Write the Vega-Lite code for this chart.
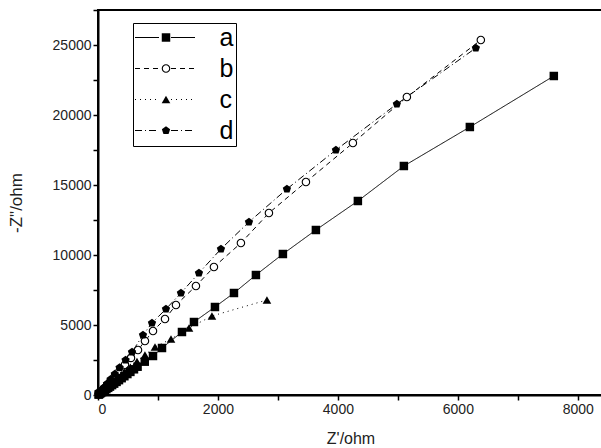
{
  "$schema": "https://vega.github.io/schema/vega-lite/v6.json",
  "width": 505,
  "height": 385,
  "autosize": {"type": "none"},
  "padding": {"left": 98, "top": 10, "right": 0, "bottom": 53},
  "background": "white",
  "config": {"view": {"stroke": "black", "strokeWidth": 2}, "font": "Liberation Sans"},
  "data": {"values": [
    {"series": "a", "zr": 10, "zi": 30}, {"series": "a", "zr": 20, "zi": 60}, {"series": "a", "zr": 35, "zi": 105}, {"series": "a", "zr": 50, "zi": 150},
    {"series": "a", "zr": 70, "zi": 210}, {"series": "a", "zr": 90, "zi": 270}, {"series": "a", "zr": 115, "zi": 345},
    {"series": "a", "zr": 140, "zi": 420}, {"series": "a", "zr": 170, "zi": 510}, {"series": "a", "zr": 200, "zi": 600},
    {"series": "a", "zr": 235, "zi": 705}, {"series": "a", "zr": 270, "zi": 810}, {"series": "a", "zr": 310, "zi": 935},
    {"series": "a", "zr": 350, "zi": 1060}, {"series": "a", "zr": 395, "zi": 1200}, {"series": "a", "zr": 440, "zi": 1340},
    {"series": "a", "zr": 490, "zi": 1495}, {"series": "a", "zr": 540, "zi": 1650}, {"series": "a", "zr": 600, "zi": 1835},
    {"series": "a", "zr": 660, "zi": 2020}, {"series": "a", "zr": 780, "zi": 2380}, {"series": "a", "zr": 917, "zi": 2786},
    {"series": "a", "zr": 1067, "zi": 3357}, {"series": "a", "zr": 1400, "zi": 4500}, {"series": "a", "zr": 1600, "zi": 5214},
    {"series": "a", "zr": 1950, "zi": 6286}, {"series": "a", "zr": 2267, "zi": 7286}, {"series": "a", "zr": 2633, "zi": 8571},
    {"series": "a", "zr": 3083, "zi": 10071}, {"series": "a", "zr": 3633, "zi": 11786}, {"series": "a", "zr": 4333, "zi": 13857},
    {"series": "a", "zr": 5100, "zi": 16357}, {"series": "a", "zr": 6200, "zi": 19143}, {"series": "a", "zr": 7600, "zi": 22786},
    {"series": "b", "zr": 10, "zi": 45}, {"series": "b", "zr": 30, "zi": 140}, {"series": "b", "zr": 60, "zi": 280},
    {"series": "b", "zr": 100, "zi": 470}, {"series": "b", "zr": 150, "zi": 700}, {"series": "b", "zr": 210, "zi": 990},
    {"series": "b", "zr": 280, "zi": 1330}, {"series": "b", "zr": 360, "zi": 1720}, {"series": "b", "zr": 450, "zi": 2160},
    {"series": "b", "zr": 550, "zi": 2650}, {"series": "b", "zr": 667, "zi": 3214}, {"series": "b", "zr": 783, "zi": 3857},
    {"series": "b", "zr": 917, "zi": 4571}, {"series": "b", "zr": 1117, "zi": 5429}, {"series": "b", "zr": 1300, "zi": 6429},
    {"series": "b", "zr": 1633, "zi": 7786}, {"series": "b", "zr": 1933, "zi": 9143}, {"series": "b", "zr": 2383, "zi": 10857},
    {"series": "b", "zr": 2850, "zi": 13000}, {"series": "b", "zr": 3467, "zi": 15214}, {"series": "b", "zr": 4250, "zi": 18000},
    {"series": "b", "zr": 5150, "zi": 21286}, {"series": "b", "zr": 6383, "zi": 25357},
    {"series": "c", "zr": 10, "zi": 35}, {"series": "c", "zr": 20, "zi": 70}, {"series": "c", "zr": 35, "zi": 125}, {"series": "c", "zr": 50, "zi": 180},
    {"series": "c", "zr": 70, "zi": 255}, {"series": "c", "zr": 90, "zi": 330}, {"series": "c", "zr": 115, "zi": 420},
    {"series": "c", "zr": 140, "zi": 510}, {"series": "c", "zr": 170, "zi": 620}, {"series": "c", "zr": 200, "zi": 730},
    {"series": "c", "zr": 235, "zi": 860}, {"series": "c", "zr": 270, "zi": 990}, {"series": "c", "zr": 310, "zi": 1140},
    {"series": "c", "zr": 350, "zi": 1290}, {"series": "c", "zr": 395, "zi": 1455}, {"series": "c", "zr": 440, "zi": 1620},
    {"series": "c", "zr": 490, "zi": 1805}, {"series": "c", "zr": 540, "zi": 1990}, {"series": "c", "zr": 650, "zi": 2400},
    {"series": "c", "zr": 783, "zi": 2857}, {"series": "c", "zr": 950, "zi": 3429},
    {"series": "c", "zr": 1217, "zi": 4000}, {"series": "c", "zr": 1517, "zi": 4786}, {"series": "c", "zr": 1900, "zi": 5643},
    {"series": "c", "zr": 2817, "zi": 6786},
    {"series": "d", "zr": 10, "zi": 50}, {"series": "d", "zr": 30, "zi": 160}, {"series": "d", "zr": 60, "zi": 320},
    {"series": "d", "zr": 100, "zi": 530}, {"series": "d", "zr": 150, "zi": 800}, {"series": "d", "zr": 210, "zi": 1120},
    {"series": "d", "zr": 280, "zi": 1500}, {"series": "d", "zr": 360, "zi": 1950}, {"series": "d", "zr": 460, "zi": 2500},
    {"series": "d", "zr": 567, "zi": 3071}, {"series": "d", "zr": 750, "zi": 4286}, {"series": "d", "zr": 900, "zi": 5143},
    {"series": "d", "zr": 1133, "zi": 6143}, {"series": "d", "zr": 1383, "zi": 7286}, {"series": "d", "zr": 1683, "zi": 8714},
    {"series": "d", "zr": 2050, "zi": 10429}, {"series": "d", "zr": 2517, "zi": 12357}, {"series": "d", "zr": 3150, "zi": 14714},
    {"series": "d", "zr": 3967, "zi": 17500}, {"series": "d", "zr": 4983, "zi": 20786}, {"series": "d", "zr": 6300, "zi": 24786}
  ]},
  "encoding": {
    "x": {
      "field": "zr", "type": "quantitative",
      "scale": {"domain": [0, 8420], "nice": false, "zero": false},
      "axis": {
        "title": "Z'/ohm",
        "values": [0, 1000, 2000, 3000, 4000, 5000, 6000, 7000, 8000],
        "format": "d",
        "labelExpr": "datum.value % 2000 === 0 ? datum.label : ''",
        "grid": false,
        "tickSize": 5,
        "tickColor": "black", "tickWidth": 1.5,
        "domainColor": "black", "domainWidth": 2,
        "labelFontSize": 14, "labelColor": "#222", "labelPadding": 2,
        "titleFontSize": 16, "titleFontWeight": "normal", "titleColor": "#222", "titlePadding": 14,
        "encode": {"ticks": {"update": {"y2": {"signal": "datum.value % 2000 === 0 ? -6 : -3"}}}}
      }
    },
    "y": {
      "field": "zi", "type": "quantitative",
      "scale": {"domain": [0, 27500], "nice": false, "zero": false},
      "axis": {
        "title": "-Z\"/ohm",
        "values": [0, 2500, 5000, 7500, 10000, 12500, 15000, 17500, 20000, 22500, 25000, 27500],
        "format": "d",
        "labelExpr": "datum.value % 5000 === 0 ? datum.label : ''",
        "grid": false,
        "tickSize": 5,
        "tickColor": "black", "tickWidth": 1.5,
        "domainColor": "black", "domainWidth": 2,
        "labelFontSize": 14, "labelColor": "#222", "labelPadding": 2,
        "titleFontSize": 17, "titleFontWeight": "normal", "titleColor": "#222", "titlePadding": 27,
        "encode": {"ticks": {"update": {"x2": {"signal": "datum.value % 5000 === 0 ? 6 : 3"}}}}
      }
    }
  },
  "layer": [
    {
      "mark": {"type": "line", "stroke": "black", "strokeWidth": 1},
      "encoding": {
        "strokeDash": {
          "field": "series", "type": "nominal",
          "scale": {"range": [[1, 0], [5, 4], [1, 4], [7, 3, 1, 3]]},
          "legend": {
            "orient": "none", "legendX": 35, "legendY": 13, "title": null,
            "padding": 2, "rowPadding": 5,
            "labelFontSize": 25, "labelFont": "Liberation Sans", "labelColor": "black", "labelOffset": 42,
            "symbolType": "M-12,0H-2.4M2.4,0H12", "symbolSize": 25, "symbolOffset": 17.5,
            "symbolStrokeWidth": 1, "symbolStrokeColor": "black", "symbolFillColor": "transparent",
            "strokeColor": "black"
          }
        }
      }
    },
    {
      "transform": [{"filter": "datum.series === 'b'"}],
      "mark": {"type": "point", "filled": true, "color": "white", "shape": "circle", "size": 70, "opacity": 1}
    },
    {
      "mark": {"type": "point", "filled": true, "color": "black", "opacity": 1},
      "encoding": {
        "shape": {
          "field": "series", "type": "nominal",
          "scale": {"domain": ["a", "b", "c", "d"], "range": ["square", "M1,0A1,1 0 1,1 -1,0A1,1 0 1,1 1,0ZM0.74,0A0.74,0.74 0 1,0 -0.74,0A0.74,0.74 0 1,0 0.74,0Z", "triangle-up", "M0,-1L0.951,-0.309L0.588,0.809L-0.588,0.809L-0.951,-0.309Z"]},
          "legend": {
            "orient": "none", "legendX": 53.5, "legendY": 13, "title": null,
            "padding": 2, "rowPadding": 5,
            "labelFontSize": 25, "labelFont": "Liberation Sans", "labelColor": "transparent"
          }
        },
        "size": {
          "field": "series", "type": "nominal",
          "scale": {"domain": ["a", "b", "c", "d"], "range": [72, 76, 140, 120]},
          "legend": {
            "orient": "none", "legendX": 53.5, "legendY": 13, "title": null,
            "padding": 2, "rowPadding": 5,
            "labelFontSize": 25, "labelFont": "Liberation Sans", "labelColor": "transparent"
          }
        }
      }
    }
  ]
}
